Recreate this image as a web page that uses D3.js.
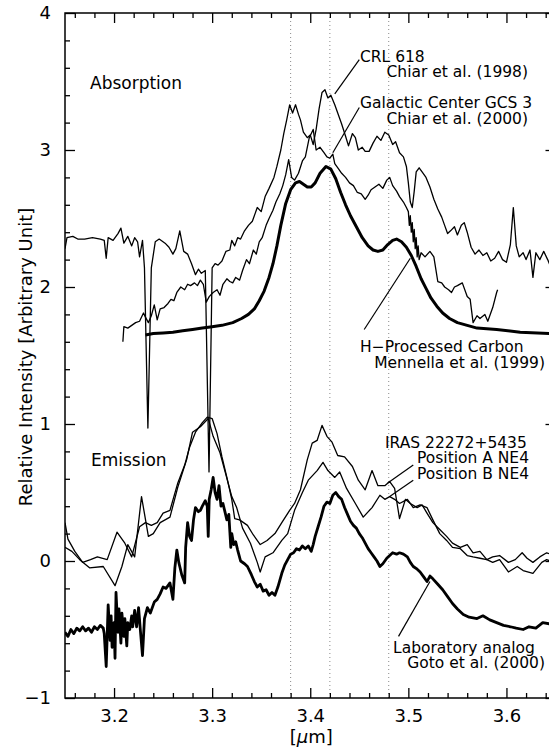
<!DOCTYPE html>
<html>
<head>
<meta charset="utf-8">
<script src="https://cdn.jsdelivr.net/npm/d3@7"></script>
<style>
  html, body { margin: 0; padding: 0; background: #fff; }
  svg { display: block; }
  text { font-family: "DejaVu Sans", "Liberation Sans", Arial, sans-serif; fill: #000; }
</style>
</head>
<body>
<svg id="chart" width="549" height="754"></svg>
<script>
// ---- Spectra: [wavelength (um), relative intensity] ----

// CRL 618, absorption (Chiar et al. 1998)
const crl618 = [
  [3.150,2.28],[3.152,2.36],[3.158,2.37],[3.163,2.35],[3.170,2.35],[3.178,2.36],[3.186,2.35],[3.190,2.34],
  [3.192,2.21],[3.194,2.36],[3.199,2.34],[3.204,2.39],[3.207,2.43],[3.210,2.32],[3.214,2.37],[3.218,2.30],
  [3.221,2.36],[3.224,2.33],[3.226,2.22],[3.229,2.34],[3.231,2.14],[3.2345,0.97],[3.238,2.14],[3.242,2.33],
  [3.246,2.35],[3.252,2.32],[3.256,2.29],[3.260,2.24],[3.263,2.28],[3.267,2.41],[3.271,2.26],[3.275,2.24],
  [3.279,2.17],[3.283,2.09],[3.286,2.13],[3.289,2.10],[3.293,2.12],[3.2968,0.65],[3.300,2.14],[3.303,2.17],
  [3.306,2.16],[3.310,2.19],[3.314,2.26],[3.318,2.27],[3.320,2.34],[3.323,2.30],[3.326,2.36],[3.329,2.35],
  [3.333,2.41],[3.337,2.45],[3.341,2.48],[3.346,2.58],[3.350,2.55],[3.354,2.66],[3.358,2.72],[3.363,2.80],
  [3.366,2.88],[3.370,3.00],[3.373,3.12],[3.376,3.22],[3.379,3.33],[3.382,3.27],[3.385,3.33],[3.388,3.26],
  [3.390,3.22],[3.393,3.13],[3.397,3.09],[3.400,3.11],[3.403,3.04],[3.406,3.15],[3.409,3.30],[3.412,3.42],
  [3.415,3.44],[3.418,3.38],[3.421,3.40],[3.425,3.33],[3.428,3.27],[3.432,3.19],[3.436,3.10],[3.439,3.03],
  [3.443,3.12],[3.446,3.09],[3.449,3.00],[3.453,3.02],[3.456,2.99],[3.460,2.99],[3.464,3.05],[3.468,3.10],
  [3.472,3.07],[3.476,3.13],[3.480,3.11],[3.484,3.04],[3.487,3.06],[3.491,2.98],[3.495,2.95],[3.498,2.88],
  [3.500,2.76],[3.502,2.62],[3.504,2.58],[3.506,2.70],[3.508,2.84],[3.511,2.87],[3.514,2.84],[3.518,2.80],
  [3.522,2.73],[3.526,2.64],[3.530,2.57],[3.534,2.51],[3.537,2.45],[3.540,2.39],[3.543,2.41],[3.547,2.44],
  [3.550,2.38],[3.554,2.45],[3.557,2.47],[3.560,2.40],[3.564,2.29],[3.568,2.24],[3.572,2.27],[3.576,2.23],
  [3.580,2.25],[3.584,2.19],[3.588,2.21],[3.592,2.26],[3.596,2.20],[3.600,2.18],[3.604,2.31],[3.607,2.58],
  [3.610,2.30],[3.613,2.22],[3.617,2.25],[3.620,2.20],[3.624,2.27],[3.627,2.07],[3.630,2.25],[3.634,2.20],
  [3.638,2.26],[3.642,2.20],[3.645,2.15]
];

// Galactic Center GCS 3, absorption (Chiar et al. 2000)
const gcs3 = [
  [3.209,1.60],[3.210,1.71],[3.214,1.70],[3.218,1.72],[3.222,1.74],[3.226,1.75],[3.230,1.81],[3.232,1.78],
  [3.235,1.74],[3.238,1.79],[3.241,1.87],[3.244,1.76],[3.247,1.84],[3.251,1.85],[3.255,1.88],[3.258,1.91],
  [3.261,1.90],[3.264,1.96],[3.268,2.00],[3.272,1.98],[3.275,2.02],[3.278,2.01],[3.282,2.03],[3.285,2.01],
  [3.288,2.05],[3.291,2.02],[3.294,1.89],[3.297,1.93],[3.301,1.96],[3.305,1.98],[3.308,1.94],[3.311,2.02],
  [3.315,2.06],[3.318,2.04],[3.321,2.03],[3.324,2.07],[3.328,2.05],[3.331,2.12],[3.335,2.20],[3.338,2.17],
  [3.342,2.27],[3.345,2.24],[3.348,2.33],[3.351,2.36],[3.355,2.45],[3.358,2.50],[3.362,2.56],[3.365,2.62],
  [3.369,2.68],[3.372,2.74],[3.375,2.82],[3.378,2.93],[3.381,2.80],[3.384,2.78],[3.388,2.83],[3.392,2.92],
  [3.395,2.95],[3.399,3.09],[3.403,3.15],[3.406,3.00],[3.410,3.02],[3.414,2.98],[3.417,2.95],[3.420,2.94],
  [3.423,2.97],[3.425,2.90],[3.429,2.86],[3.432,2.83],[3.436,2.80],[3.440,2.76],[3.444,2.74],[3.448,2.69],
  [3.452,2.68],[3.456,2.64],[3.459,2.67],[3.462,2.71],[3.466,2.73],[3.470,2.75],[3.474,2.72],[3.478,2.78],
  [3.481,2.80],[3.484,2.74],[3.488,2.70],[3.491,2.66],[3.495,2.62],[3.498,2.58],[3.500,2.55],[3.501,2.45],
  [3.502,2.52],[3.503,2.40],[3.504,2.47],[3.505,2.33],[3.506,2.42],[3.507,2.28],[3.508,2.36],[3.509,2.22],
  [3.510,2.30],[3.511,2.20],[3.513,2.25],[3.517,2.22],[3.522,2.26],[3.526,2.22],[3.530,2.04],[3.534,2.03],
  [3.537,2.00],[3.541,1.98],[3.544,1.96],[3.547,2.00],[3.550,2.01],[3.555,2.03],[3.560,1.93],[3.563,1.91],
  [3.566,1.74],[3.570,1.79],[3.573,1.77],[3.578,1.80],[3.581,1.75],[3.586,1.85],[3.590,1.96],[3.591,1.98]
];

// H-processed carbon, laboratory absorption (Mennella et al. 1999)
const hProcessed = [
  [3.232,1.65],[3.240,1.66],[3.250,1.665],[3.260,1.67],[3.270,1.68],[3.280,1.69],[3.290,1.70],[3.300,1.71],
  [3.310,1.72],[3.321,1.74],[3.330,1.77],[3.337,1.80],[3.343,1.84],[3.348,1.90],[3.353,1.97],[3.358,2.07],
  [3.362,2.17],[3.366,2.30],[3.370,2.45],[3.375,2.61],[3.380,2.71],[3.385,2.76],[3.389,2.77],[3.393,2.75],
  [3.397,2.73],[3.401,2.73],[3.405,2.76],[3.410,2.83],[3.416,2.88],[3.421,2.86],[3.426,2.79],[3.431,2.69],
  [3.436,2.60],[3.441,2.52],[3.447,2.44],[3.453,2.36],[3.459,2.30],[3.464,2.27],[3.469,2.26],[3.474,2.27],
  [3.479,2.31],[3.484,2.34],[3.488,2.35],[3.493,2.33],[3.498,2.29],[3.503,2.23],[3.508,2.15],[3.513,2.06],
  [3.518,1.99],[3.523,1.92],[3.529,1.86],[3.535,1.81],[3.542,1.77],[3.550,1.74],[3.560,1.72],[3.570,1.70],
  [3.590,1.69],[3.614,1.67],[3.645,1.66]
];

// IRAS 22272+5435, emission, position A NE4
const posA = [
  [3.150,0.28],[3.153,0.16],[3.160,0.07],[3.168,-0.01],[3.176,0.01],[3.183,0.03],[3.193,0.01],[3.203,0.21],
  [3.211,0.13],[3.218,0.03],[3.226,0.25],[3.232,0.28],[3.238,0.26],[3.244,0.28],[3.250,0.35],[3.257,0.37],
  [3.265,0.57],[3.272,0.70],[3.277,0.83],[3.283,0.94],[3.290,1.01],[3.295,1.05],[3.300,1.04],[3.305,0.93],
  [3.310,0.76],[3.315,0.61],[3.320,0.45],[3.323,0.31],[3.328,0.30],[3.336,0.26],[3.342,0.19],[3.349,0.12],
  [3.356,0.15],[3.364,0.20],[3.371,0.28],[3.379,0.37],[3.384,0.42],[3.390,0.52],[3.397,0.74],[3.402,0.86],
  [3.407,0.88],[3.412,0.99],[3.417,0.91],[3.422,0.87],[3.428,0.77],[3.435,0.76],[3.443,0.69],[3.449,0.59],
  [3.456,0.52],[3.463,0.66],[3.469,0.55],[3.476,0.55],[3.481,0.58],[3.486,0.53],[3.491,0.31],[3.497,0.45],
  [3.502,0.42],[3.509,0.39],[3.514,0.41],[3.519,0.35],[3.525,0.28],[3.532,0.23],[3.539,0.18],[3.545,0.13],
  [3.553,0.10],[3.560,0.12],[3.566,0.06],[3.573,0.07],[3.580,0.01],[3.586,0.03],[3.593,0.04],[3.602,-0.01],
  [3.609,0.01],[3.616,0.06],[3.621,0.02],[3.627,-0.01],[3.634,0.03],[3.641,0.06],[3.645,0.05]
];

// IRAS 22272+5435, emission, position B NE4
const posB = [
  [3.150,0.10],[3.157,0.07],[3.165,0.01],[3.175,-0.05],[3.189,-0.04],[3.201,-0.18],[3.208,-0.04],[3.214,0.12],
  [3.221,0.03],[3.228,0.47],[3.235,0.18],[3.240,0.20],[3.247,0.28],[3.257,0.32],[3.265,0.54],[3.274,0.74],
  [3.280,0.94],[3.288,0.98],[3.296,1.04],[3.301,0.91],[3.308,0.79],[3.314,0.63],[3.320,0.47],[3.325,0.39],
  [3.331,0.24],[3.339,0.13],[3.346,-0.01],[3.349,-0.08],[3.354,0.03],[3.362,0.06],[3.371,0.15],[3.377,0.20],
  [3.384,0.37],[3.392,0.50],[3.398,0.59],[3.407,0.66],[3.413,0.72],[3.418,0.66],[3.425,0.61],[3.430,0.65],
  [3.437,0.53],[3.446,0.42],[3.454,0.32],[3.463,0.39],[3.471,0.48],[3.476,0.45],[3.481,0.47],[3.486,0.45],
  [3.491,0.42],[3.499,0.45],[3.505,0.39],[3.512,0.41],[3.519,0.39],[3.525,0.30],[3.532,0.20],[3.539,0.15],
  [3.545,0.10],[3.553,0.09],[3.560,0.04],[3.566,0.03],[3.573,0.02],[3.580,0.01],[3.586,-0.01],[3.593,0.01],
  [3.602,-0.08],[3.611,-0.04],[3.617,-0.07],[3.627,-0.09],[3.636,-0.01],[3.641,0.01],[3.645,0.00]
];

// Laboratory analog, emission (Goto et al. 2000)
const labAnalog = [
  [3.150,-0.52],[3.153,-0.55],[3.156,-0.50],[3.159,-0.53],[3.162,-0.49],[3.165,-0.51],[3.168,-0.48],[3.171,-0.51],
  [3.174,-0.49],[3.177,-0.52],[3.180,-0.48],[3.183,-0.50],[3.186,-0.47],[3.189,-0.49],[3.190,-0.53],[3.192,-0.77],
  [3.193,-0.55],[3.194,-0.32],[3.196,-0.58],[3.197,-0.40],[3.198,-0.63],[3.200,-0.45],[3.201,-0.71],[3.202,-0.23],
  [3.204,-0.52],[3.205,-0.35],[3.207,-0.60],[3.208,-0.38],[3.210,-0.55],[3.211,-0.42],[3.213,-0.62],[3.214,-0.45],
  [3.216,-0.50],[3.218,-0.40],[3.219,-0.48],[3.221,-0.36],[3.223,-0.48],[3.225,-0.34],[3.227,-0.52],[3.229,-0.69],
  [3.231,-0.42],[3.234,-0.34],[3.237,-0.38],[3.241,-0.30],[3.244,-0.28],[3.247,-0.24],[3.250,-0.19],[3.253,-0.20],
  [3.257,-0.16],[3.260,-0.28],[3.262,-0.05],[3.264,0.08],[3.266,-0.01],[3.267,-0.04],[3.269,-0.10],[3.272,-0.16],
  [3.273,0.10],[3.275,0.28],[3.277,0.18],[3.279,0.15],[3.281,0.30],[3.283,0.39],[3.286,0.36],[3.288,0.37],
  [3.290,0.40],[3.293,0.44],[3.295,0.40],[3.296,0.18],[3.297,0.45],[3.299,0.52],[3.301,0.61],[3.303,0.50],
  [3.305,0.45],[3.307,0.55],[3.309,0.40],[3.311,0.42],[3.313,0.36],[3.315,0.30],[3.317,0.34],[3.318,0.22],
  [3.319,0.10],[3.320,0.20],[3.322,0.12],[3.324,0.14],[3.326,0.08],[3.329,0.00],[3.333,-0.02],[3.336,-0.04],
  [3.340,-0.10],[3.343,-0.15],[3.346,-0.19],[3.349,-0.17],[3.352,-0.22],[3.355,-0.21],[3.358,-0.25],[3.361,-0.23],
  [3.364,-0.25],[3.367,-0.19],[3.371,-0.09],[3.374,-0.03],[3.377,0.01],[3.380,0.05],[3.383,0.06],[3.386,0.09],
  [3.389,0.08],[3.392,0.11],[3.395,0.09],[3.398,0.11],[3.401,0.07],[3.403,0.12],[3.405,0.18],[3.408,0.25],
  [3.411,0.32],[3.414,0.40],[3.417,0.43],[3.420,0.42],[3.423,0.48],[3.426,0.50],[3.429,0.47],[3.432,0.45],
  [3.435,0.39],[3.438,0.34],[3.441,0.29],[3.444,0.26],[3.447,0.24],[3.450,0.20],[3.453,0.17],[3.456,0.13],
  [3.459,0.09],[3.462,0.06],[3.465,0.03],[3.468,0.00],[3.471,-0.04],[3.474,-0.02],[3.478,0.02],[3.481,0.04],
  [3.484,0.06],[3.488,0.05],[3.491,0.06],[3.495,0.05],[3.499,0.03],[3.502,-0.01],[3.505,-0.04],[3.509,-0.06],
  [3.512,-0.08],[3.516,-0.12],[3.519,-0.15],[3.522,-0.11],[3.525,-0.13],[3.530,-0.17],[3.535,-0.21],[3.540,-0.26],
  [3.545,-0.31],[3.550,-0.35],[3.556,-0.39],[3.562,-0.41],[3.570,-0.42],[3.576,-0.40],[3.583,-0.43],[3.590,-0.45],
  [3.597,-0.47],[3.604,-0.48],[3.610,-0.49],[3.617,-0.50],[3.623,-0.48],[3.630,-0.49],[3.637,-0.45],[3.645,-0.46]
];

// ---- Axis ticks ----
const xMajor = [3.2, 3.3, 3.4, 3.5, 3.6];
const xTickLabels = ["3.2", "3.3", "3.4", "3.5", "3.6"];
const yMajor = [-1, 0, 1, 2, 3, 4];
const yTickLabels = ["\u22121", "0", "1", "2", "3", "4"];

// Reference wavelengths marked with dotted lines
const featureLines = [3.38, 3.42, 3.48];

// Annotations: text lines and leader lines, in data coordinates
const sectionLabels = [
  { text: "Absorption", x: 3.1755, y: 3.445 },
  { text: "Emission",   x: 3.1765, y: 0.693 }
];
const noteLabels = [
  { text: "CRL 618",                 x: 3.4507, y: 3.642,  anchor: "start" },
  { text: "Chiar et al. (1998)",     x: 3.6220, y: 3.535,  anchor: "end" },
  { text: "Galactic Center GCS 3",   x: 3.4507, y: 3.307,  anchor: "start" },
  { text: "Chiar et al. (2000)",     x: 3.6220, y: 3.192,  anchor: "end" },
  { text: "H\u2212Processed Carbon", x: 3.4507, y: 1.526,  anchor: "start" },
  { text: "Mennella et al. (1999)",  x: 3.6393, y: 1.411,  anchor: "end" },
  { text: "IRAS 22272+5435",         x: 3.4762, y: 0.825,  anchor: "start" },
  { text: "Position A NE4",          x: 3.5088, y: 0.713,  anchor: "start" },
  { text: "Position B NE4",          x: 3.5088, y: 0.597,  anchor: "start" },
  { text: "Laboratory analog",       x: 3.4844, y: -0.672, anchor: "start" },
  { text: "Goto et al. (2000)",      x: 3.6393, y: -0.783, anchor: "end" }
];
const leaders = [
  [[3.450, 3.66], [3.425, 3.41]],
  [[3.450, 3.31], [3.423, 2.98]],
  [[3.455, 1.69], [3.502, 2.21]],
  [[3.505, 0.70], [3.479, 0.57]],
  [[3.505, 0.59], [3.481, 0.47]],
  [[3.490, -0.55], [3.522, -0.15]]
];

// ---- Layout ----
const svg = d3.select("#chart");
const x = d3.scaleLinear().domain([3.15, 3.65]).range([65, 555.5]);
const y = d3.scaleLinear().domain([-1, 4]).range([698, 13]);
const [x0, x1] = x.range();
const [yb, yt] = y.range();

svg.append("rect").attr("width", 549).attr("height", 754).attr("fill", "#fff");

svg.append("defs").append("clipPath").attr("id", "plotClip")
  .append("rect").attr("x", x0).attr("y", yt).attr("width", x1 - x0).attr("height", yb - yt);

const plot = svg.append("g").attr("clip-path", "url(#plotClip)");

// dotted reference lines
plot.selectAll("line.feature").data(featureLines).join("line")
  .attr("class", "feature")
  .attr("x1", d => x(d)).attr("x2", d => x(d))
  .attr("y1", yt).attr("y2", yb)
  .attr("stroke", "#8a8a8a").attr("stroke-width", 1)
  .attr("stroke-dasharray", "1,3");

const line = d3.line().x(d => x(d[0])).y(d => y(d[1]));

const series = [
  { data: crl618,     width: 1.3 },
  { data: gcs3,       width: 1.3 },
  { data: posA,       width: 1.3 },
  { data: posB,       width: 1.3 },
  { data: hProcessed, width: 3.0 },
  { data: labAnalog,  width: 2.8 }
];
plot.selectAll("path.spec").data(series).join("path")
  .attr("class", "spec")
  .attr("d", d => line(d.data))
  .attr("fill", "none")
  .attr("stroke", "#000")
  .attr("stroke-width", d => d.width)
  .attr("stroke-linejoin", "round");

// leader lines
svg.selectAll("line.leader").data(leaders).join("line")
  .attr("class", "leader")
  .attr("x1", d => x(d[0][0])).attr("y1", d => y(d[0][1]))
  .attr("x2", d => x(d[1][0])).attr("y2", d => y(d[1][1]))
  .attr("stroke", "#000").attr("stroke-width", 1.2);

// annotation text
svg.selectAll("text.note").data(noteLabels).join("text")
  .attr("class", "note")
  .attr("x", d => x(d.x)).attr("y", d => y(d.y))
  .attr("text-anchor", d => d.anchor)
  .attr("font-size", 15.5)
  .text(d => d.text);

svg.selectAll("text.section").data(sectionLabels).join("text")
  .attr("class", "section")
  .attr("x", d => x(d.x)).attr("y", d => y(d.y))
  .attr("font-size", 17)
  .text(d => d.text);

// ---- Axes (ticks point inward on all four sides) ----
const xMinor = d3.range(0, 25).map(i => 3.16 + 0.02 * i).filter(v => !xMajor.some(m => Math.abs(m - v) < 1e-6));
const yMinor = d3.range(0, 26).map(i => -1 + 0.2 * i).filter(v => !yMajor.some(m => Math.abs(m - v) < 1e-6));

function styleAxis(g) {
  g.select(".domain").remove();
  g.selectAll(".tick line").attr("stroke", "#000").attr("stroke-width", 1.3);
  g.selectAll("text").attr("font-size", 18).attr("font-family", "DejaVu Sans, Liberation Sans, Arial, sans-serif");
}

// bottom
svg.append("g").attr("transform", `translate(0,${yb})`)
  .call(d3.axisBottom(x).tickValues(xMajor).tickSize(-10).tickPadding(11)
        .tickFormat((d, i) => xTickLabels[i]))
  .call(styleAxis);
svg.append("g").attr("transform", `translate(0,${yb})`)
  .call(d3.axisBottom(x).tickValues(xMinor).tickSize(-5).tickFormat(""))
  .call(styleAxis);
// top
svg.append("g").attr("transform", `translate(0,${yt})`)
  .call(d3.axisTop(x).tickValues(xMajor).tickSize(-10).tickFormat(""))
  .call(styleAxis);
svg.append("g").attr("transform", `translate(0,${yt})`)
  .call(d3.axisTop(x).tickValues(xMinor).tickSize(-5).tickFormat(""))
  .call(styleAxis);
// left
svg.append("g").attr("transform", `translate(${x0},0)`)
  .call(d3.axisLeft(y).tickValues(yMajor).tickSize(-10).tickPadding(14)
        .tickFormat((d, i) => yTickLabels[i]))
  .call(styleAxis);
svg.append("g").attr("transform", `translate(${x0},0)`)
  .call(d3.axisLeft(y).tickValues(yMinor).tickSize(-5).tickFormat(""))
  .call(styleAxis);
// right
svg.append("g").attr("transform", `translate(${x1},0)`)
  .call(d3.axisRight(y).tickValues(yMajor).tickSize(-10).tickFormat(""))
  .call(styleAxis);
svg.append("g").attr("transform", `translate(${x1},0)`)
  .call(d3.axisRight(y).tickValues(yMinor).tickSize(-5).tickFormat(""))
  .call(styleAxis);

// frame
svg.append("rect")
  .attr("x", x0).attr("y", yt).attr("width", x1 - x0).attr("height", yb - yt)
  .attr("fill", "none").attr("stroke", "#000").attr("stroke-width", 1.5);

// axis titles
const xTitle = svg.append("text")
  .attr("x", (x(3.4) + 1)).attr("y", 743)
  .attr("text-anchor", "middle").attr("font-size", 18);
xTitle.append("tspan").text("[");
xTitle.append("tspan").attr("font-style", "italic").text("\u03bc");
xTitle.append("tspan").text("m]");

svg.append("text")
  .attr("transform", "translate(32,357) rotate(-90)")
  .attr("text-anchor", "middle").attr("font-size", 18)
  .text("Relative Intensity [Arbitrary Unit]");
</script>
</body>
</html>
